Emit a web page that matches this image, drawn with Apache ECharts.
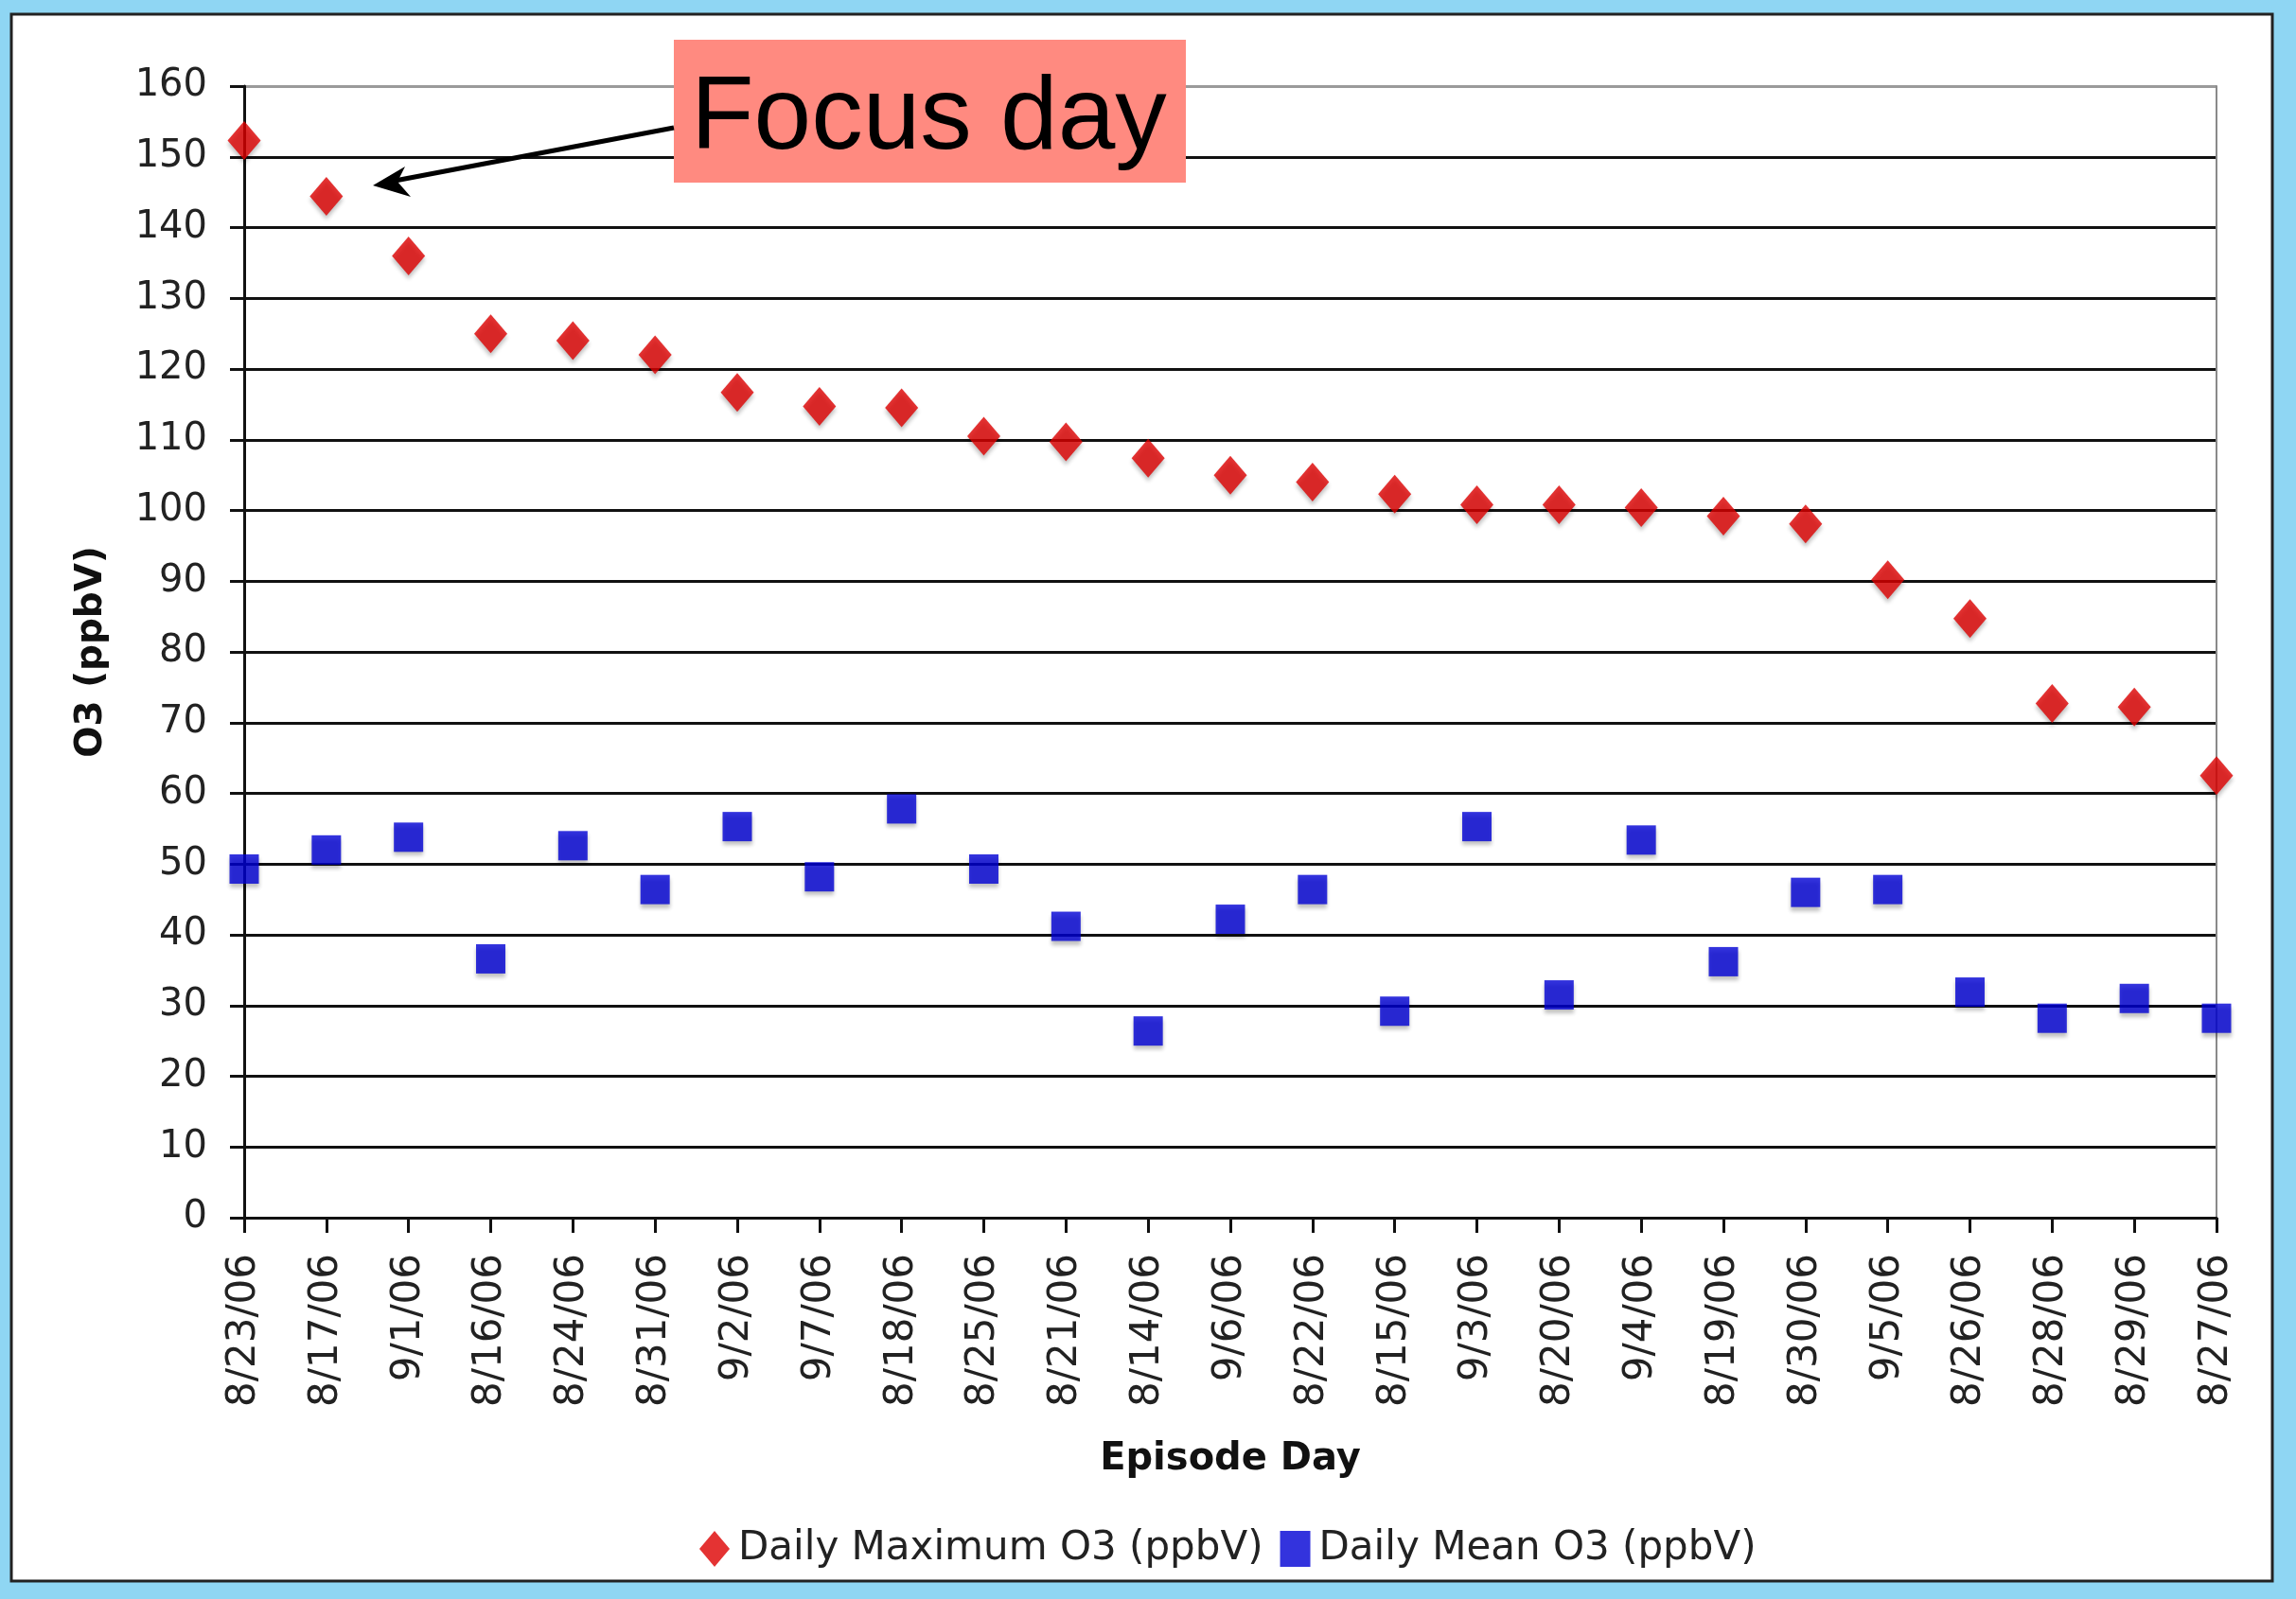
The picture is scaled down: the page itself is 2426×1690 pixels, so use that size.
<!DOCTYPE html>
<html>
<head>
<meta charset="utf-8">
<title>Episode Day O3</title>
<script src="https://cdn.jsdelivr.net/npm/echarts@6/dist/echarts.min.js"></script>
<style>
  html, body { margin: 0; padding: 0; background: #8fd6f3; }
  #chart { width: 2426px; height: 1690px; }
</style>
</head>
<body>
<div id="chart"></div>
<script>
// episode days, sorted by daily max
const days = ['8/23/06', '8/17/06', '9/1/06', '8/16/06', '8/24/06', '8/31/06', '9/2/06', '9/7/06',
  '8/18/06', '8/25/06', '8/21/06', '8/14/06', '9/6/06', '8/22/06', '8/15/06', '9/3/06', '8/20/06',
  '9/4/06', '8/19/06', '8/30/06', '9/5/06', '8/26/06', '8/28/06', '8/29/06', '8/27/06'];
const dailyMax = [152.3, 144.4, 136, 125, 124, 122, 116.7, 114.7, 114.5, 110.5, 109.7, 107.4, 105,
  104, 102.3, 100.8, 100.8, 100.4, 99.2, 98.1, 90.2, 84.7, 72.7, 72.2, 62.5];
const dailyMean = [49.3, 52, 53.8, 36.6, 52.6, 46.4, 55.3, 48.2, 57.8, 49.3, 41.2, 26.4, 42.2,
  46.4, 29.2, 55.3, 31.5, 53.4, 36.2, 46, 46.4, 31.9, 28.2, 31, 28.2];
const yTicks = [0, 10, 20, 30, 40, 50, 60, 70, 80, 90, 100, 110, 120, 130, 140, 150, 160];

const font = 'DejaVu Sans, Verdana, sans-serif';
let chart = echarts.init(document.getElementById('chart'));

// grid line colours, the top one is lighter like the original
let gridColors = yTicks.map(function (v) { return v === 160 ? '#9a9a9a' : '#111'; });

let option = {
  backgroundColor: 'transparent',
  animation: false,
  graphic: [
    {
      type: 'rect', z: -10,
      shape: { x: 12, y: 15, width: 2389, height: 1656 },
      style: { fill: '#ffffff', stroke: '#222', lineWidth: 3 }
    },
    // arrow pointing at the focus day
    {
      type: 'line', z: 50,
      shape: { x1: 712, y1: 135, x2: 412, y2: 192 },
      style: { stroke: '#000', lineWidth: 5 }
    },
    {
      type: 'polygon', z: 50,
      shape: { points: [[394, 196], [428, 176], [420, 192], [434, 208]] },
      style: { fill: '#000' }
    },
    {
      type: 'rect', z: 40,
      shape: { x: 712, y: 42, width: 541, height: 151 },
      style: { fill: '#ff8a80' }
    },
    {
      type: 'text', z: 45,
      left: 730, top: 72,
      style: { text: 'Focus day', font: '109px "Liberation Sans", Arial, sans-serif', fill: '#000' }
    }
  ],
  legend: {
    left: 734, top: 1611,
    itemWidth: 32, itemHeight: 38, itemGap: 18,
    textStyle: { fontFamily: font, fontSize: 42, color: '#222', padding: [0, 0, 0, 4] },
    data: ['Daily Maximum O3 (ppbV)', 'Daily Mean O3 (ppbV)']
  },
  grid: { left: 258, right: 84, top: 91, bottom: 403 },
  xAxis: {
    type: 'category',
    data: days,
    boundaryGap: false,
    name: 'Episode Day',
    nameLocation: 'middle',
    nameGap: 236,
    nameTextStyle: { fontFamily: font, fontSize: 40, fontWeight: 'bold', color: '#111' },
    axisLine: { lineStyle: { color: '#111', width: 3 } },
    axisTick: { show: true, length: 16, lineStyle: { color: '#111', width: 3 } },
    axisLabel: { rotate: 90, interval: 0, margin: 38, fontFamily: font, fontSize: 42, color: '#222' },
    splitLine: { show: false }
  },
  yAxis: [
    {
      type: 'value',
      min: 0, max: 160, interval: 10,
      name: 'O3 (ppbV)',
      nameLocation: 'middle',
      nameGap: 142,
      nameRotate: 90,
      nameTextStyle: { fontFamily: font, fontSize: 39, fontWeight: 'bold', color: '#111' },
      axisLine: { show: true, lineStyle: { color: '#111', width: 3 } },
      axisTick: { show: true, length: 15, lineStyle: { color: '#111', width: 3 } },
      axisLabel: { margin: 39, fontFamily: font, fontSize: 40, color: '#222' },
      splitLine: { show: true, lineStyle: { color: gridColors, width: 3 } }
    },
    {
      type: 'value',
      position: 'right',
      min: 0, max: 160, interval: 10,
      axisLine: { show: true, lineStyle: { color: '#8a8a8a', width: 2 } },
      axisTick: { show: false },
      axisLabel: { show: false },
      splitLine: { show: false }
    }
  ],
  series: [
    {
      name: 'Daily Maximum O3 (ppbV)',
      type: 'scatter',
      symbol: 'diamond',
      symbolSize: [35, 41],
      data: dailyMax,
      itemStyle: { color: '#dd0000', shadowBlur: 4, shadowColor: 'rgba(0,0,0,0.3)', shadowOffsetY: 4 },
      z: 10
    },
    {
      name: 'Daily Mean O3 (ppbV)',
      type: 'scatter',
      symbol: 'rect',
      symbolSize: 31,
      symbolKeepAspect: true,
      data: dailyMean,
      itemStyle: { color: '#0000d4', shadowBlur: 4, shadowColor: 'rgba(0,0,0,0.3)', shadowOffsetY: 4 },
      z: 10
    }
  ]
};

chart.setOption(option);
</script>
</body>
</html>
